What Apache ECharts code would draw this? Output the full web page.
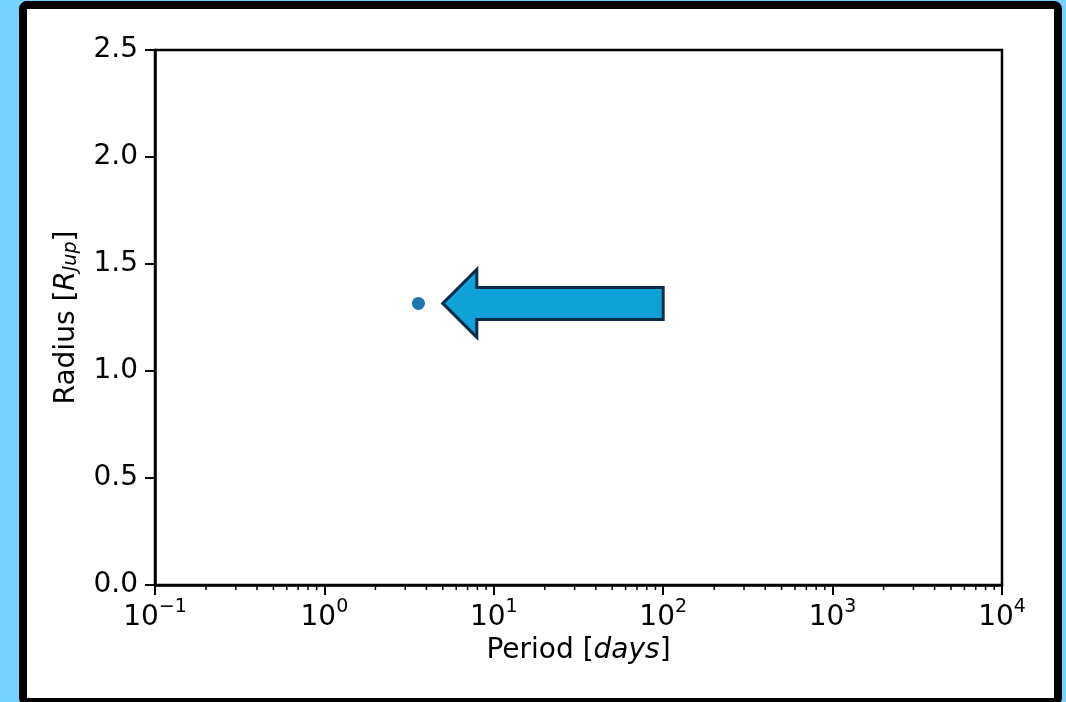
<!DOCTYPE html>
<html>
<head>
<meta charset="utf-8">
<script src="https://cdn.jsdelivr.net/npm/echarts@6/dist/echarts.min.js"></script>
<style>
  html, body { margin: 0; padding: 0; width: 1066px; height: 702px; overflow: hidden; background: #76d3ff; }
  #frame { position: absolute; left: 19px; top: 1px; width: 1043px; height: 705px; box-sizing: border-box;
           border: 8px solid #000; border-radius: 8px; background: #fff; }
  #chart { position: absolute; left: 0; top: 0; width: 1066px; height: 702px; }
</style>
</head>
<body>
<div id="frame"></div>
<div id="chart"></div>
<script>
// Planet: orbital period (days) and radius (Jupiter radii)
const periodDays = [3.59];
const radiusRjup = [1.316];

// Arrow pointing at the planet: from tail to tip, [period, radius]
const arrowTail = [100, 1.316];
const arrowTip = [5, 1.316];

// Axis ticks
const xTickExponents = ['\u22121', '0', '1', '2', '3', '4'];
const xDecades = [0.1, 1, 10, 100, 1000];
const yTickLabels = ['0.0', '0.5', '1.0', '1.5', '2.0', '2.5'];

// Minor log ticks (2..9 within each decade)
const xMinorTicks = [];
xDecades.forEach(function (d) {
  for (let m = 2; m <= 9; m++) xMinorTicks.push([d * m, 0]);
});

const FONT = 'DejaVu Sans';
const chart = echarts.init(document.getElementById('chart'), null, { renderer: 'canvas' });

chart.setOption({
  animation: false,
  grid: {
    left: 155, top: 50, right: 64, bottom: 117,
    show: true, borderColor: '#000', borderWidth: 2.5, backgroundColor: 'transparent'
  },
  xAxis: {
    type: 'log', logBase: 10, min: 0.1, max: 10000,
    splitLine: { show: false },
    axisLine: { show: true, lineStyle: { color: '#000', width: 2.5 } },
    axisTick: { show: true, inside: false, length: 10, lineStyle: { color: '#000', width: 2 } },
    axisLabel: {
      margin: 13,
      fontFamily: FONT,
      color: '#000',
      formatter: function (v) {
        const e = Math.round(Math.log10(v)) + 1;
        return '{b|10}{s|' + xTickExponents[e] + '}';
      },
      rich: {
        b: { fontFamily: FONT, fontSize: 28, lineHeight: 34, verticalAlign: 'bottom', color: '#000' },
        s: { fontFamily: FONT, fontSize: 19, lineHeight: 20, verticalAlign: 'top', color: '#000' }
      }
    },
    name: '{a|Period [}{i|days}{a|]}',
    nameLocation: 'middle',
    nameGap: 51,
    nameTextStyle: {
      rich: {
        a: { fontFamily: FONT, fontSize: 28, lineHeight: 28, verticalAlign: 'middle', color: '#000' },
        i: { fontFamily: FONT, fontStyle: 'italic', fontSize: 28, lineHeight: 28, verticalAlign: 'middle', color: '#000' }
      }
    }
  },
  yAxis: {
    type: 'value', min: 0, max: 2.5, interval: 0.5,
    splitLine: { show: false },
    axisLine: { show: true, lineStyle: { color: '#000', width: 2.5 } },
    axisTick: { show: true, inside: false, length: 10, lineStyle: { color: '#000', width: 2 } },
    axisLabel: {
      margin: 17,
      fontFamily: FONT, fontSize: 28, color: '#000',
      formatter: function (v) { return yTickLabels[Math.round(v / 0.5)]; }
    },
    name: '{a|Radius [}{r|R}{s|Jup}{a|]}',
    nameLocation: 'middle',
    nameGap: 74,
    nameTextStyle: {
      rich: {
        a: { fontFamily: FONT, fontSize: 28, lineHeight: 28, verticalAlign: 'middle', color: '#000' },
        r: { fontFamily: FONT, fontStyle: 'italic', fontSize: 28, lineHeight: 28, verticalAlign: 'middle', color: '#000' },
        s: { fontFamily: FONT, fontStyle: 'italic', fontSize: 19, lineHeight: 12, verticalAlign: 'bottom', color: '#000' }
      }
    }
  },
  series: [
    {
      // minor ticks on the log period axis
      type: 'custom',
      silent: true,
      clip: false,
      data: xMinorTicks,
      renderItem: function (params, api) {
        const p = api.coord([api.value(0), api.value(1)]);
        return {
          type: 'line',
          shape: { x1: p[0], y1: p[1], x2: p[0], y2: p[1] + 5 },
          style: { stroke: '#000', lineWidth: 1.5 }
        };
      }
    },
    {
      type: 'scatter',
      data: periodDays.map(function (p, i) { return [p, radiusRjup[i]]; }),
      symbol: 'circle',
      symbolSize: 13,
      itemStyle: { color: '#1f77b4', opacity: 1 },
      z: 5
    },
    {
      // block arrow pointing at the planet
      type: 'custom',
      silent: true,
      clip: false,
      data: [[arrowTip[0], arrowTip[1], arrowTail[0], arrowTail[1]]],
      renderItem: function (params, api) {
        const tip = api.coord([api.value(0), api.value(1)]);
        const tail = api.coord([api.value(2), api.value(3)]);
        const headLen = 34, headHalf = 34, bodyHalf = 16;
        const tx = tip[0], ty = tip[1], ax = tail[0];
        return {
          type: 'polygon',
          shape: {
            points: [
              [tx, ty],
              [tx + headLen, ty - headHalf],
              [tx + headLen, ty - bodyHalf],
              [ax, ty - bodyHalf],
              [ax, ty + bodyHalf],
              [tx + headLen, ty + bodyHalf],
              [tx + headLen, ty + headHalf]
            ]
          },
          style: { fill: '#10a1d6', stroke: '#0d2b47', lineWidth: 3, lineJoin: 'miter' }
        };
      }
    }
  ]
});
</script>
</body>
</html>
